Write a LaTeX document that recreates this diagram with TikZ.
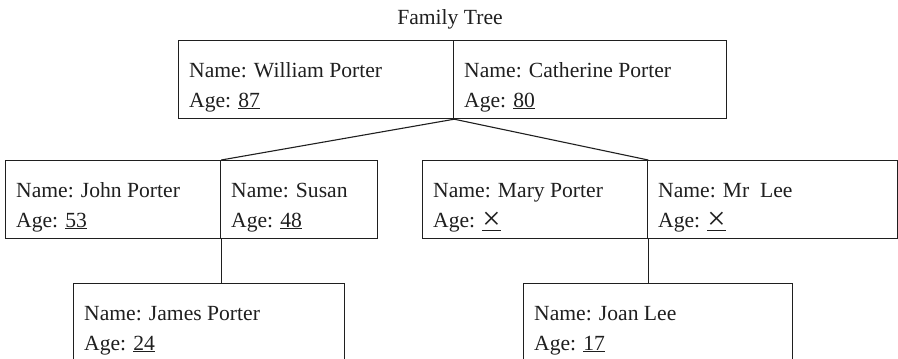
\documentclass[tikz,border=0pt]{standalone}
\usepackage{fontspec}
\setmainfont{Liberation Serif}
\usetikzlibrary{positioning}
\definecolor{ink}{gray}{0.12}

\newcommand{\nocross}{\raisebox{-0.1em}{\scalebox{1.5}{×}}}

\tikzset{
	half/.style={draw=ink,line width=1.2pt,anchor=north west,inner sep=0pt,minimum width=#1,minimum height=78pt},
	info/.style={anchor=base west,align=left,inner sep=0pt,text=ink},
	link/.style={draw=ink,line width=1.1pt}
}

\begin{document}
\begin{tikzpicture}[x=1pt,y=-1pt,font=\fontsize{21.6}{30}\selectfont]
	\useasboundingbox[fill=white] (0,0) rectangle (898,359);
	\clip (0,0) rectangle (898,359);

	\node[text=ink] (title) at (450,19) {Family Tree};

	% boxes
	\node[half=275pt] (wp) at (178,40) {};
	\node[half=273pt] (cp) at (453,40) {};
	\node[half=215pt] (jp) at (5,160) {};
	\node[half=157pt] (su) at (220,160) {};
	\node[half=225pt] (mp) at (422,160) {};
	\node[half=250pt] (ml) at (647,160) {};
	\node[half=271pt,minimum height=120pt] (ja) at (73,283) {};
	\node[half=269pt,minimum height=120pt] (jl) at (523,283) {};

	% texts (base = last line)
	\node[info] (wp-t) at ([xshift=11pt,yshift=-67pt]wp.north west) {Name: William Porter\\Age: \underline{87}};
	\node[info] (cp-t) at ([xshift=11pt,yshift=-67pt]cp.north west) {Name: Catherine Porter\\Age: \underline{80}};
	\node[info] (jp-t) at ([xshift=11pt,yshift=-67pt]jp.north west) {Name: John Porter\\Age: \underline{53}};
	\node[info] (su-t) at ([xshift=11pt,yshift=-67pt]su.north west) {Name: Susan\\Age: \underline{48}};
	\node[info] (mp-t) at ([xshift=11pt,yshift=-67pt]mp.north west) {Name: Mary Porter\\Age: \underline{\nocross}};
	\node[info] (ml-t) at ([xshift=11pt,yshift=-67pt]ml.north west) {Name: Mr\hspace{0.5em}Lee\\Age: \underline{\nocross}};
	\node[info] (ja-t) at ([xshift=11pt,yshift=-67pt]ja.north west) {Name: James Porter\\Age: \underline{24}};
	\node[info] (jl-t) at ([xshift=11pt,yshift=-67pt]jl.north west) {Name: Joan Lee\\Age: \underline{17}};

	% links
	\draw[link] (wp.south east) -- (jp.north east);
	\draw[link] (wp.south east) -- (mp.north east);
	\draw[link] (jp.south east) -- (jp.south east |- ja.north);
	\draw[link] (mp.south east) -- (mp.south east |- jl.north);
\end{tikzpicture}
\end{document}
